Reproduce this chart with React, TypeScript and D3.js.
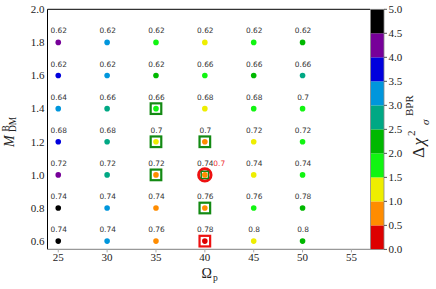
import React from 'react';
import * as d3 from 'd3';

// grid of the scan
const omegaP = [25, 30, 35, 40, 45, 50];
const mDM = [1.8, 1.6, 1.4, 1.2, 1.0, 0.8, 0.6];

// Delta chi^2 (estimated from colour bins), one row per mDM value
const deltaChi2 = [
  [4.2, 3.2, 1.7, 1.2, 1.7, 2.2],
  [3.7, 3.2, 2.2, 1.7, 2.2, 2.7],
  [3.2, 2.7, 1.7, 1.2, 1.7, 1.7],
  [3.7, 2.7, 1.2, 0.7, 1.2, 1.7],
  [4.2, 2.7, 0.7, 0.7, 1.2, 1.7],
  [4.7, 3.2, 0.7, 0.7, 1.7, 2.2],
  [4.7, 3.2, 0.7, 0.2, 1.2, 2.2],
];

// number printed above each point
const pointLabels = [
  ['0.62', '0.62', '0.62', '0.62', '0.62', '0.62'],
  ['0.62', '0.62', '0.62', '0.66', '0.66', '0.66'],
  ['0.64', '0.66', '0.66', '0.68', '0.68', '0.7'],
  ['0.68', '0.68', '0.7', '0.7', '0.72', '0.72'],
  ['0.72', '0.72', '0.72', '0.74', '0.74', '0.74'],
  ['0.74', '0.74', '0.74', '0.76', '0.76', '0.78'],
  ['0.74', '0.74', '0.76', '0.78', '0.8', '0.8'],
];

// highlighted points [omegaP, mDM]
const greenBoxes = [[35, 1.4], [35, 1.2], [40, 1.2], [35, 1.0], [40, 0.8]];
const redBox = [[40, 0.6]];
const redCircle = [[40, 1.0]];
const redCircleLabel = '0.7';

const xTicks = [25, 30, 35, 40, 45, 50, 55];
const yTicks = [0.6, 0.8, 1.0, 1.2, 1.4, 1.6, 1.8, 2.0];
const cbTicks = [0, 0.5, 1, 1.5, 2, 2.5, 3, 3.5, 4, 4.5, 5];
const binColors = ['#dd0000', '#ff8c00', '#eeee00', '#11f511', '#00b800', '#00a884',
  '#0096dc', '#0000dd', '#770099', '#000000'];

const W = 436, H = 289;
const m = { left: 47.5, right: 370, top: 9.3, bottom: 249.4 };

const serif = '"Liberation Serif", "DejaVu Serif", serif';
const sans = '"DejaVu Sans", sans-serif';

export default function App() {
  const x = d3.scaleLinear().domain([23.9, 56.9]).range([m.left, m.right]);
  const y = d3.scaleLinear().domain([0.55, 2.0]).range([m.bottom, m.top]);
  const color = d3.scaleThreshold<number, string>()
    .domain(d3.range(0.5, 5, 0.5))
    .range(binColors);
  const cbY = d3.scaleLinear().domain([0, 5]).range([m.bottom, m.top]);
  const cbX0 = 370.5, cbX1 = 384;

  const points = mDM.flatMap((mv, i) => omegaP.map((ov, j) => ({
    o: ov, m: mv, v: deltaChi2[i][j], label: pointLabels[i][j],
  })));

  return (
    <svg width={W} height={H} style={{ position: 'absolute', left: 0, top: 0, background: '#fff' }}>
      {/* frame */}
      <line x1={m.left} x2={m.right} y1={m.top} y2={m.top} stroke="#000" strokeWidth={1} />
      <line x1={m.left} x2={m.left} y1={m.top} y2={m.bottom} stroke="#000" strokeWidth={1} />
      <line x1={m.left} x2={m.right} y1={m.bottom} y2={m.bottom} stroke="#999" strokeWidth={1.3} />

      {/* x ticks */}
      {xTicks.map(t => (
        <g key={'xt' + t}>
          <line x1={x(t)} x2={x(t)} y1={m.bottom} y2={m.bottom + 3} stroke="#aaa" />
          <text x={x(t)} y={260.5} textAnchor="middle" fontFamily={serif} fontSize={11} fill="#222">{t}</text>
        </g>
      ))}
      {/* y ticks */}
      {yTicks.map(t => (
        <text key={'yt' + t} x={44.5} y={y(t) + 3.8} textAnchor="end" fontFamily={serif} fontSize={11} fill="#222">
          {t.toFixed(1)}
        </text>
      ))}

      {/* highlight frames */}
      {greenBoxes.map(([o, mv], i) => (
        <rect key={'gb' + i} x={x(o) - 5.3} y={y(mv) - 5.3} width={10.6} height={10.6}
          fill="#fff" stroke="#138a13" strokeWidth={2.2} />
      ))}
      {redBox.map(([o, mv], i) => (
        <rect key={'rb' + i} x={x(o) - 5.3} y={y(mv) - 5.3} width={10.6} height={10.6}
          fill="#fff" stroke="#ee1111" strokeWidth={2.2} />
      ))}
      {redCircle.map(([o, mv], i) => (
        <g key={'rc' + i}>
          <circle cx={x(o)} cy={y(mv)} r={6.2} fill="#fff" stroke="#ee1111" strokeWidth={3} />
          <rect x={x(o) - 3.6} y={y(mv) - 3.6} width={7.2} height={7.2} fill="#fff" stroke="#138a13" strokeWidth={1.4} />
        </g>
      ))}

      {/* points */}
      {points.map((p, i) => (
        <g key={'p' + i}>
          <circle cx={x(p.o)} cy={y(p.m)} r={2.8} fill={color(p.v)} />
          <text x={x(p.o) + 0.5} y={y(p.m) - 9} textAnchor="middle" fontFamily={sans} fontSize={7.4} fill="#333">
            {p.label}
          </text>
        </g>
      ))}
      {redCircle.map(([o, mv], i) => (
        <text key={'rcl' + i} x={x(o) + 8.5} y={y(mv) - 9} fontFamily={sans} fontSize={7.4} fill="#ee3333">
          {redCircleLabel}
        </text>
      ))}

      {/* colorbar */}
      {binColors.map((c, i) => (
        <rect key={'cb' + i} x={cbX0} y={cbY(cbTicks[i + 1])} width={cbX1 - cbX0}
          height={cbY(cbTicks[i]) - cbY(cbTicks[i + 1])} fill={c} />
      ))}
      <rect x={cbX0} y={m.top} width={cbX1 - cbX0} height={m.bottom - m.top} fill="none" stroke="#888" strokeWidth={0.8} />
      {cbTicks.map(t => (
        <g key={'cbt' + t}>
          <line x1={cbX1} x2={cbX1 + 3} y1={cbY(t)} y2={cbY(t)} stroke="#555" />
          <text x={388.5} y={cbY(t) + 3.8} fontFamily={serif} fontSize={11} fill="#222">{t.toFixed(1)}</text>
        </g>
      ))}

      {/* axis labels */}
      <text fontFamily={serif} fill="#222">
        <tspan x={201.5} y={278} fontSize={14}>Ω</tspan>
        <tspan x={213} y={281} fontSize={9.5}>p</tspan>
      </text>
      <g transform="translate(13.5,147) rotate(-90)">
        <text fontFamily={serif} fill="#222">
          <tspan x={0} y={0} fontSize={14} fontStyle="italic">M</tspan>
          <tspan x={15.5} y={-5} fontSize={9.5}>B</tspan>
          <tspan x={15} y={2} fontSize={9.5}>DM</tspan>
        </text>
      </g>
      <g transform="translate(423.5,128) rotate(-90)">
        <text fontFamily={serif} fill="#222">
          <tspan x={-30} y={0} fontSize={17}>Δ</tspan>
          <tspan x={-17.5} y={0} fontSize={17} fontStyle="italic">χ</tspan>
          <tspan x={-8} y={-9} fontSize={11}>2</tspan>
          <tspan x={12} y={-11} fontSize={11}>BPR</tspan>
          <tspan x={3} y={5} fontSize={11} fontStyle="italic">σ</tspan>
        </text>
      </g>
    </svg>
  );
}
